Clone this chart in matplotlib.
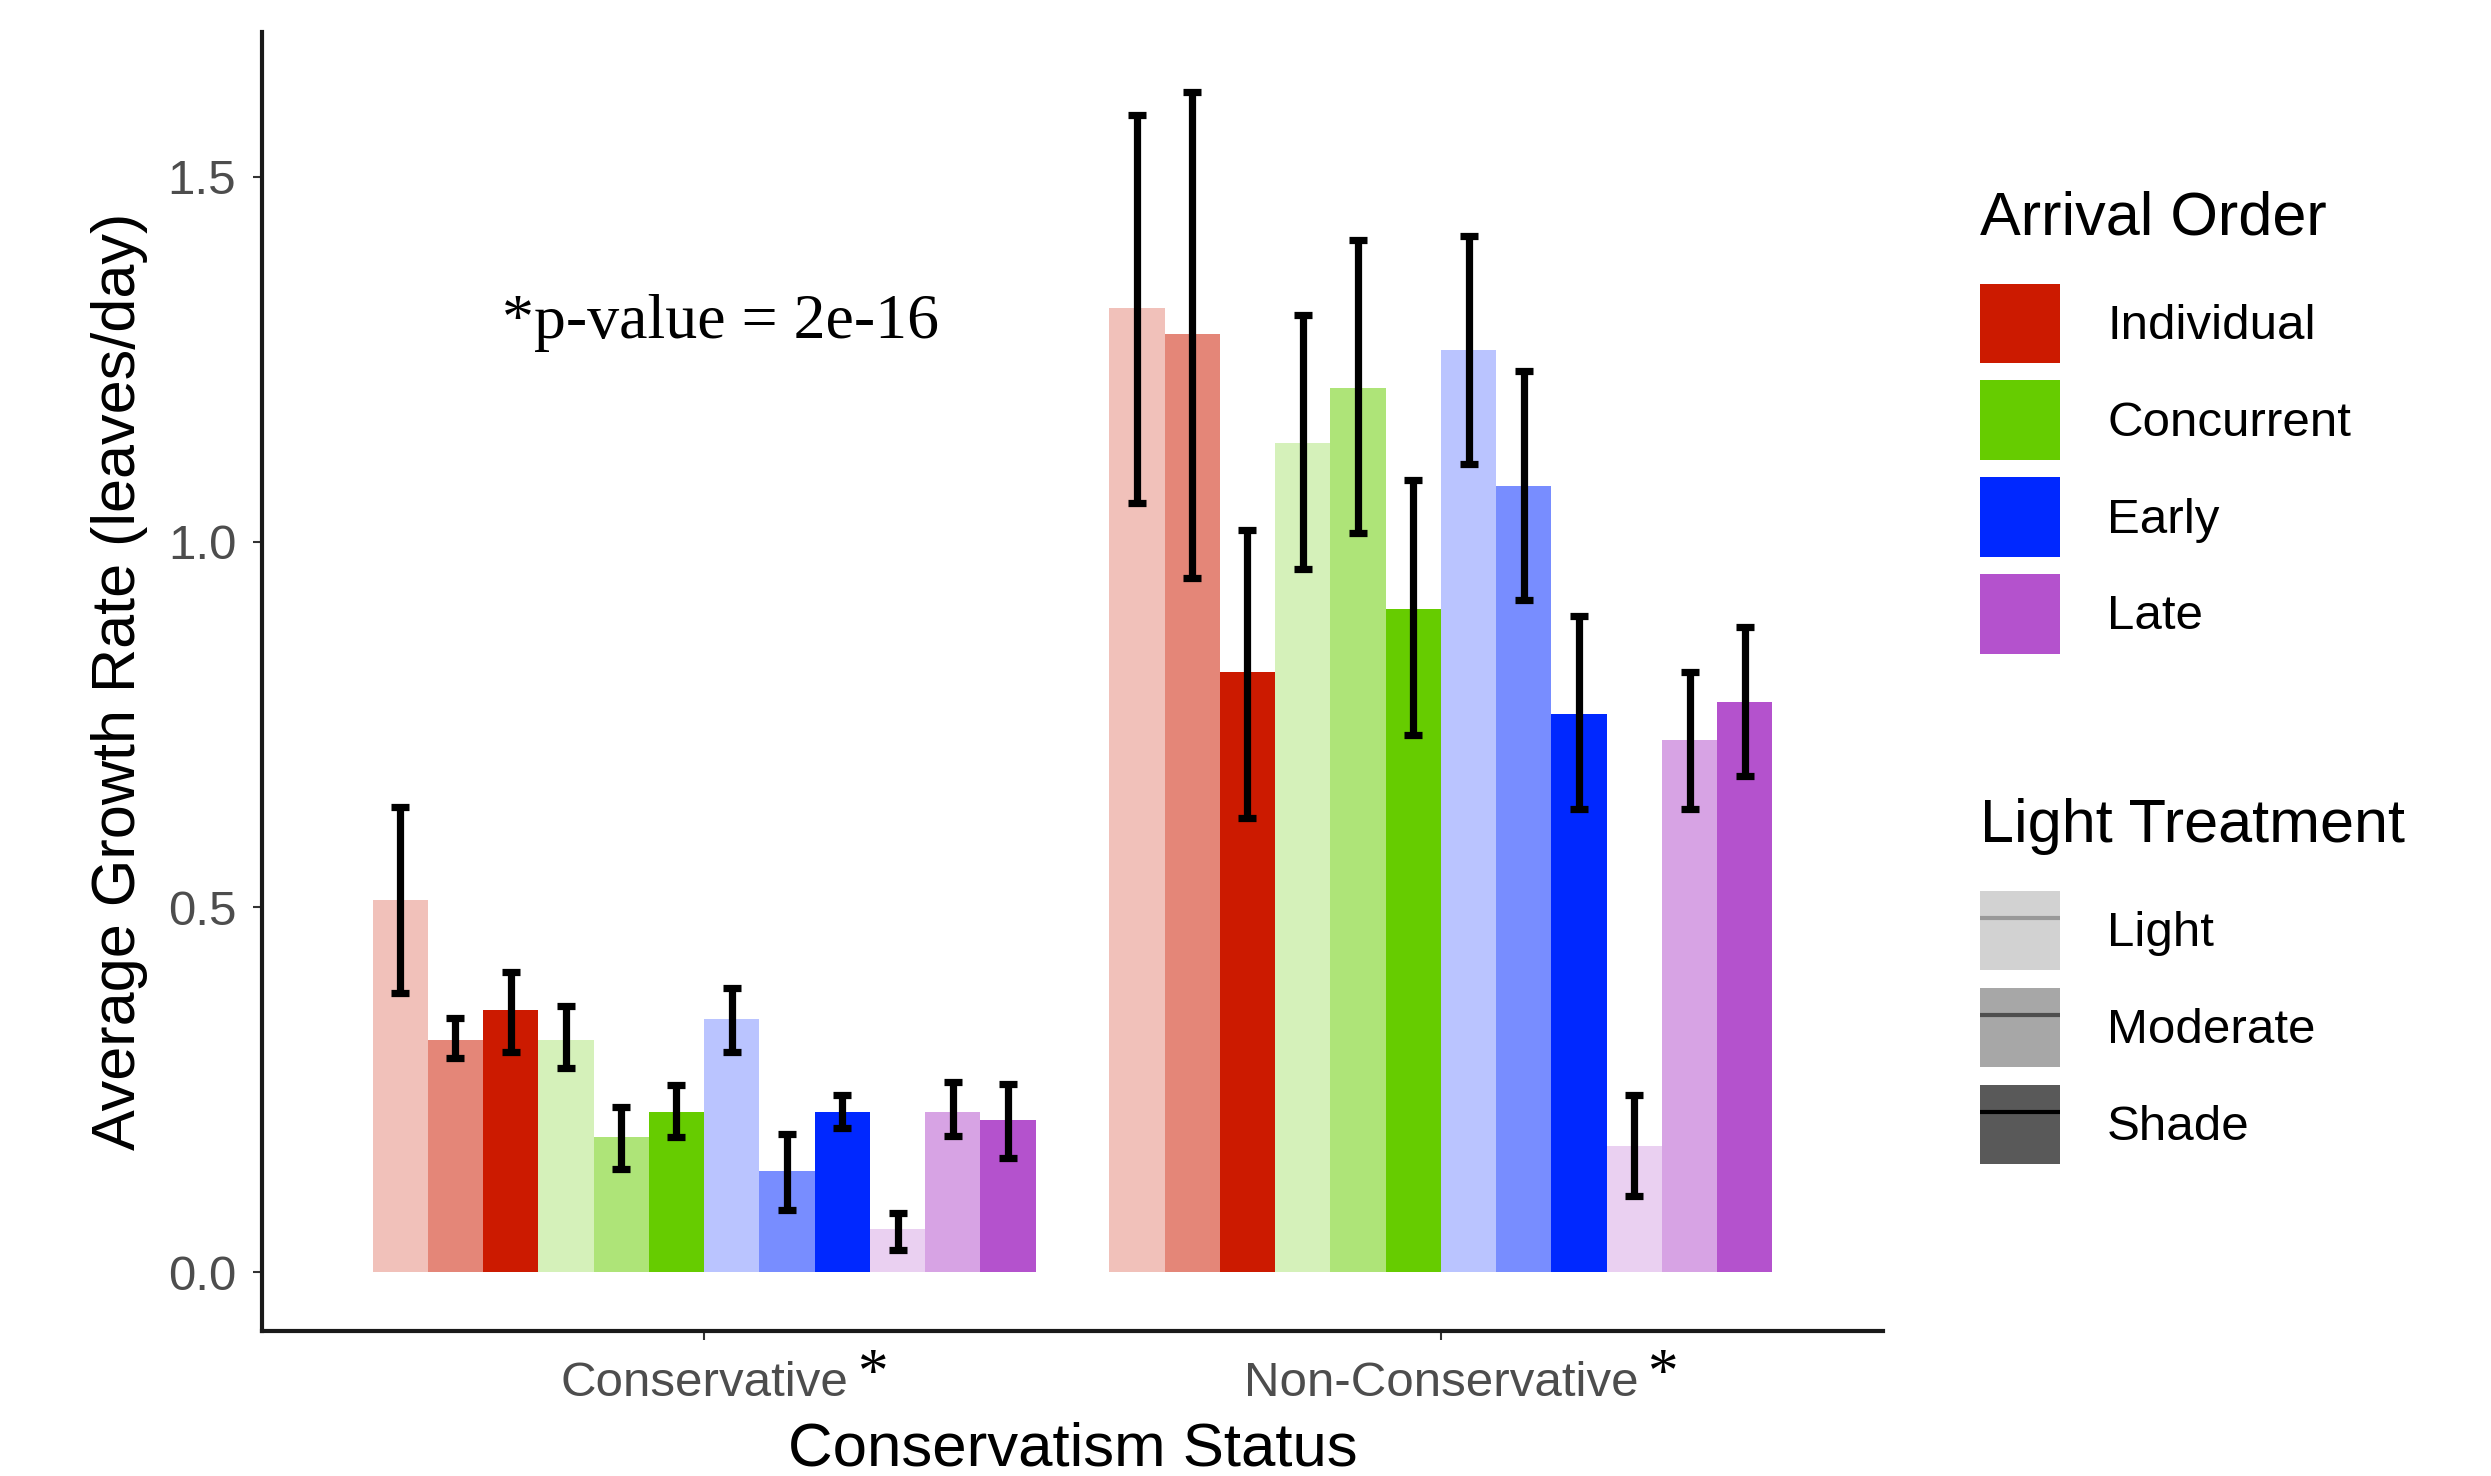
import numpy as np
import matplotlib.pyplot as plt
from matplotlib.patches import Patch
from matplotlib.lines import Line2D
from matplotlib.transforms import blended_transform_factory

plt.rcParams['font.family'] = ['Liberation Sans', 'DejaVu Sans']

# data
status = ["Conservative", "Non-Conservative"]
arrival = ["Individual", "Concurrent", "Early", "Late"]
light = ["Light", "Moderate", "Shade"]

# bar order inside each group: arrival x light
cons_mean = [0.510, 0.318, 0.359, 0.318, 0.185, 0.220, 0.347, 0.138, 0.220, 0.059, 0.220, 0.208]
cons_low = [0.383, 0.293, 0.301, 0.279, 0.141, 0.185, 0.301, 0.085, 0.198, 0.030, 0.186, 0.157]
cons_high = [0.637, 0.348, 0.411, 0.365, 0.226, 0.256, 0.389, 0.189, 0.243, 0.081, 0.261, 0.258]

noncons_mean = [1.320, 1.285, 0.822, 1.135, 1.210, 0.908, 1.262, 1.077, 0.764, 0.173, 0.729, 0.781]
noncons_low = [1.053, 0.950, 0.622, 0.963, 1.012, 0.735, 1.106, 0.921, 0.634, 0.104, 0.634, 0.680]
noncons_high = [1.585, 1.616, 1.016, 1.310, 1.413, 1.085, 1.419, 1.234, 0.899, 0.243, 0.822, 0.884]

base_colors = ["#CC1A00", "#66CC00", "#0028FF", "#B452CD"]
alphas = [0.27, 0.53, 1.0]

fig = plt.figure(figsize=(24.91, 14.76), dpi=100)
ax = fig.add_axes([0.1052, 0.0982, 0.6507, 0.8801])

n_bars = len(arrival) * len(light)
bw = 0.9 / n_bars
groups = [(cons_mean, cons_low, cons_high), (noncons_mean, noncons_low, noncons_high)]
for g, (mean, low, high) in enumerate(groups):
    center = g + 1
    for k in range(n_bars):
        a_i, l_i = divmod(k, len(light))
        x = center - 0.45 + (k + 0.5) * bw
        ax.bar(x, mean[k], width=bw, color=base_colors[a_i], alpha=alphas[l_i], linewidth=0)
        ax.errorbar(x, mean[k], yerr=[[mean[k] - low[k]], [high[k] - mean[k]]],
                    fmt='none', ecolor='black', elinewidth=5.2, capsize=6.5, capthick=5.2)

ax.set_xlim(0.4, 2.6)
ax.set_ylim(-0.0805, 1.698)
ax.set_xticks([1, 2])
ax.set_xticklabels(status)
ax.set_yticks([0, 0.5, 1.0, 1.5])
ax.set_yticklabels(["0.0", "0.5", "1.0", "1.5"])
ax.tick_params(axis='both', colors='#333333', labelcolor='#4D4D4D', labelsize=35.5,
               length=6.5, width=1.5)
ax.tick_params(axis='y', pad=12)
ax.tick_params(axis='x', pad=15)
for side in ['top', 'right']:
    ax.spines[side].set_visible(False)
for side in ['left', 'bottom']:
    ax.spines[side].set_linewidth(3)
    ax.spines[side].set_color('#1a1a1a')

ax.set_xlabel("Conservatism Status", fontsize=44.5, labelpad=11)
ax.set_ylabel("Average Growth Rate (leaves/day)", fontsize=44, labelpad=14)

ax.text(0.726, 1.300, "*p-value = 2e-16", family=['Liberation Serif', 'DejaVu Serif'],
        fontsize=46, ha='left', va='center')
trans = blended_transform_factory(ax.transData, ax.transAxes)
for xs in [1.228, 2.300]:
    ax.text(xs, -0.034, "*", family=['Liberation Serif', 'DejaVu Serif'], fontsize=44,
            ha='center', va='center', transform=trans)

# legends
legend_kw = dict(loc='upper left', bbox_transform=fig.transFigure, frameon=False,
                 fontsize=35.5, title_fontsize=44, handlelength=1.61, handleheight=2.1,
                 handletextpad=0.96, labelspacing=0.355, borderpad=0, borderaxespad=0,
                 alignment='left')

h1 = [Patch(facecolor=c, edgecolor='none') for c in base_colors]
leg1 = ax.legend(h1, arrival, title="Arrival Order", bbox_to_anchor=(0.795, 0.871), **legend_kw)
leg1._legend_box.sep = 26
ax.add_artist(leg1)

h2 = [(Patch(facecolor='#595959', alpha=a, edgecolor='none'),
       Line2D([], [], color='black', alpha=a, linewidth=3, solid_capstyle='butt')) for a in alphas]
leg2 = ax.legend(h2, light, title="Light Treatment", bbox_to_anchor=(0.795, 0.4596), **legend_kw)
leg2._legend_box.sep = 26

fig.savefig("out.png", dpi=100)
